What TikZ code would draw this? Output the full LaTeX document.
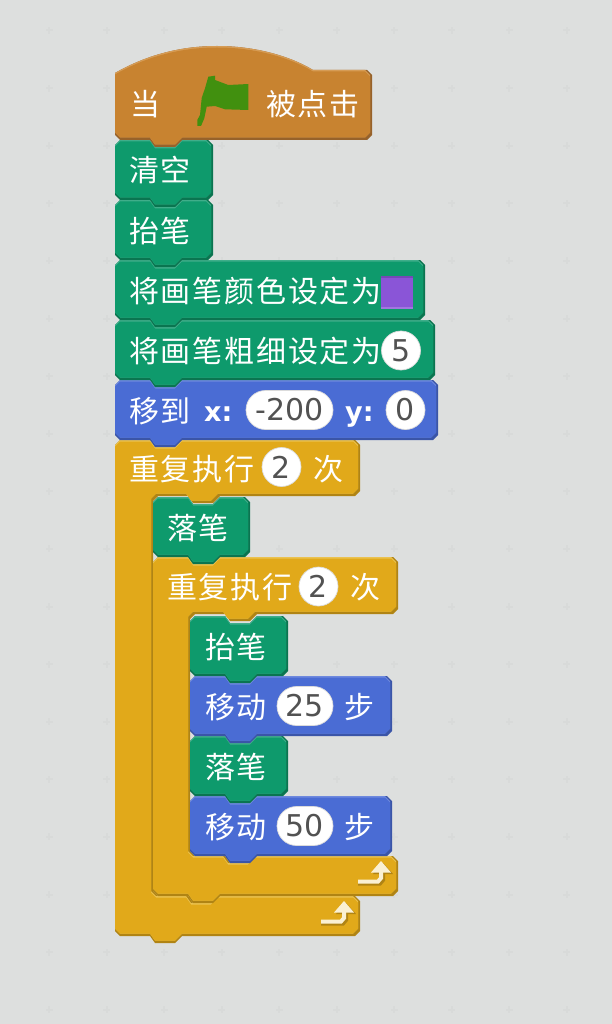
\documentclass[tikz,border=0pt]{standalone}
\usepackage{fontspec}
\newfontfamily\cjk[LetterSpace=6]{Noto Sans CJK SC}
\newfontfamily\numf{DejaVu Sans}
\newfontfamily\boldf{DejaVu Sans Bold}
\definecolor{bgc}{HTML}{DDDFDE}
\definecolor{gridc}{HTML}{D8DAD9}
\definecolor{penB}{HTML}{0E9A6C}\definecolor{penD}{HTML}{0A7550}\definecolor{penL}{HTML}{3FAE8A}
\definecolor{motB}{HTML}{4A6CD4}\definecolor{motD}{HTML}{3A55A8}\definecolor{motL}{HTML}{6E89DE}
\definecolor{ctlB}{HTML}{E1A91A}\definecolor{ctlD}{HTML}{B08414}\definecolor{ctlL}{HTML}{EBC24F}
\definecolor{evtB}{HTML}{C88330}\definecolor{evtD}{HTML}{97622A}\definecolor{evtL}{HTML}{D69C55}
\definecolor{flagc}{HTML}{41900F}
\definecolor{swatchc}{HTML}{8A55D7}
\tikzset{
  x=1pt,y=-1pt,
  label text/.style={inner sep=0pt,anchor=base west,text=white,font=\fontsize{30}{30}\cjk},
  latin text/.style={inner sep=0pt,anchor=base west,text=white,font=\fontsize{27}{27}\boldf},
  value oval/.style={fill=white,draw=black!14,line width=.7pt,rounded corners=19.5pt,inner sep=0pt,minimum height=39pt,text=black!68,font=\fontsize{30}{30}\numf},
  loop arrow/.style={draw=#1,line width=4pt,line cap=butt,line join=miter},
}
\newcommand\stackoutline[4]{(#1,#2+5)--(#1+5,#2)--(#1+35,#2)--(#1+40,#2+7)--(#1+60,#2+7)--(#1+67,#2)--(#3-5,#2)--(#3,#2+5)--(#3,#4-5)--(#3-5,#4)--(#1+67,#4)--(#1+60,#4+7)--(#1+40,#4+7)--(#1+35,#4)--(#1+5,#4)--(#1,#4-5)--cycle}
\newcommand\stackblock[5]{%
  \fill[#5D] \stackoutline{#1}{#2}{#3}{#4};
  \fill[#5L] \stackoutline{#1}{#2}{#3-2}{#4-2.5};
  \fill[#5B] \stackoutline{#1}{#2+1.5}{#3-2}{#4-2.5};
}
\newcommand\coutline[7]{(#1,#2+5)--(#1+5,#2)--(#1+35,#2)--(#1+40,#2+7)--(#1+60,#2+7)--(#1+67,#2)--(#3-5,#2)--(#3,#2+5)--(#3,#4-5)--(#3-5,#4)--(#5+67,#4)--(#5+60,#4+7)--(#5+40,#4+7)--(#5+35,#4)--(#5+5,#4)--(#5,#4+5)--(#5,#6-5)--(#5+5,#6)--(#5+35,#6)--(#5+40,#6+7)--(#5+60,#6+7)--(#5+67,#6)--(#3-5,#6)--(#3,#6+5)--(#3,#7-5)--(#3-5,#7)--(#1+67,#7)--(#1+60,#7+7)--(#1+40,#7+7)--(#1+35,#7)--(#1+5,#7)--(#1,#7-5)--cycle}
\newcommand\cblock[7]{%
  \fill[ctlD] \coutline{#1}{#2}{#3}{#4}{#5}{#6}{#7};
  \fill[ctlL] \coutline{#1}{#2}{#3-2}{#4-2.5}{#5-2}{#6}{#7-2.5};
  \fill[ctlB] \coutline{#1}{#2+1.5}{#3-2}{#4-2.5}{#5-2}{#6+1.5}{#7-2.5};
}
\newcommand\hatoutline[3]{(115,#1+27) .. controls (150,#1+7) and (185,#1) .. (217,#1) .. controls (255,#1) and (290,#1+10) .. (313,#1+24) --(#3-5,#1+24)--(#3,#1+29)--(#3,#2-5)--(#3-5,#2)--(182,#2)--(175,#2+7)--(155,#2+7)--(150,#2)--(120,#2)--(115,#2-5)--cycle}
\newcommand\loopmark[2]{%
  \begin{scope}[shift={(#1,#2)}]
    \draw[loop arrow=ctlD] (321,923.5)--(343,923.5)--(346,920)--(346,911);
    \fill[ctlD] (336,914)--(356,914)--(346,903)--cycle;
    \draw[loop arrow=ctlL!25!white] (321,921.5)--(341,921.5)--(344,918)--(344,909);
    \fill[ctlL!25!white] (334,912.5)--(354,912.5)--(344,901)--cycle;
  \end{scope}}
\begin{document}
\begin{tikzpicture}
\fill[bgc] (0,0) rectangle (612,1024);
\useasboundingbox (0,0) rectangle (612,1024);
\foreach \i in {0,...,10}{\foreach \j in {0,...,17}{
  \fill[gridc] (49.2+57.5*\i-3.5,30.5+57.6*\j-1) rectangle ++(7,2);
  \fill[gridc] (49.2+57.5*\i-1,30.5+57.6*\j-3.5) rectangle ++(2,7);
}}
% blocks, lowest first so that each bump lies over the block beneath
\cblock{115}{440}{360}{496}{153}{896}{936}
\cblock{153}{557}{398}{614}{190}{856}{896}
\stackblock{190}{796}{392}{856}{mot}
\stackblock{190}{736}{288}{796}{pen}
\stackblock{190}{676}{392}{736}{mot}
\stackblock{190}{616}{288}{676}{pen}
\stackblock{153}{497}{250}{557}{pen}
\stackblock{115}{380}{438}{440}{mot}
\stackblock{115}{320}{435}{380}{pen}
\stackblock{115}{260}{425}{320}{pen}
\stackblock{115}{200}{213}{260}{pen}
\stackblock{115}{140}{213}{200}{pen}
\fill[evtD] \hatoutline{46}{140}{372};
\fill[evtL] \hatoutline{46}{137.5}{370};
\fill[evtB] \hatoutline{47.5}{137.5}{370};
% flag
\fill[flagc] (197.3,126)--(197.3,120)--(200,115)--(201.7,98)--(205,88.3)--(208.3,76.7)--(215,75.7)--(215,80)--(228.3,85)--(248.3,84)--(248.3,110)--(225,109.3)--(215,106)--(206.7,106.7)--(204.3,118.3)--(201,126)--cycle;
% colour swatch
\fill[swatchc!85!black] (381,276) rectangle (413,309);
\fill[swatchc!80!white] (381,278) rectangle (413,309);
\fill[swatchc] (381,278) rectangle (413,306.5);
% labels
\node[label text] (t1) at (130,116) {当};
\node[label text] (t2) at (266,116) {被点击};
\node[label text] (t3) at (129,182) {清空};
\node[label text] (t4) at (129,242) {抬笔};
\node[label text] (t5) at (129,302) {将画笔颜色设定为};
\node[label text] (t6) at (129,362) {将画笔粗细设定为};
\node[label text] (t7) at (129,422) {移到};
\node[latin text] (t8) at (204,421) {x:};
\node[latin text] (t9) at (345,421) {y:};
\node[label text] (t10) at (129,480) {重复执行};
\node[label text] (t11) at (313,480) {次};
\node[label text] (t12) at (167,539) {落笔};
\node[label text] (t13) at (167,598) {重复执行};
\node[label text] (t14) at (350,598) {次};
\node[label text] (t15) at (205,658) {抬笔};
\node[label text] (t16) at (205,718) {移动};
\node[label text] (t17) at (344,718) {步};
\node[label text] (t18) at (205,778) {落笔};
\node[label text] (t19) at (205,838) {移动};
\node[label text] (t20) at (344,838) {步};
% value ovals
\node[value oval,minimum width=39pt] (v1) at (401,350.5) {5};
\node[value oval,minimum width=87pt] (v2) at (289.5,410) {-200};
\node[value oval,minimum width=39pt] (v3) at (405.5,410) {0};
\node[value oval,minimum width=39pt] (v4) at (281.5,467) {2};
\node[value oval,minimum width=39pt] (v5) at (318.5,586.5) {2};
\node[value oval,minimum width=56pt] (v6) at (305,706) {25};
\node[value oval,minimum width=56pt] (v7) at (305,826) {50};
% loop arrows
\loopmark{0}{0}
\loopmark{37}{-40}
\end{tikzpicture}
\end{document}
